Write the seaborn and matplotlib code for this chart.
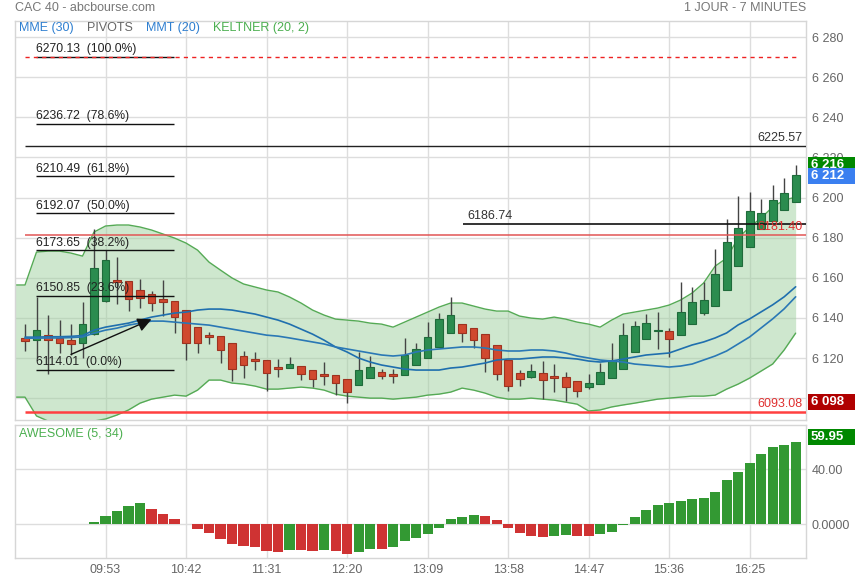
import matplotlib
matplotlib.use("Agg")
import matplotlib.pyplot as plt
from matplotlib.patches import Rectangle
import seaborn as sns
import numpy as np
import pandas as pd

# ---- candles (7 minute bars) ----
opens = [6129.8, 6129.0, 6131.3, 6129.8, 6128.8, 6127.7, 6132.2, 6148.2, 6158.8, 6158.3,
         6153.8, 6152.0, 6149.3, 6148.3, 6143.8, 6135.5, 6131.5, 6130.8, 6127.3, 6120.8,
         6118.8, 6118.8, 6115.3, 6114.8, 6115.8, 6113.8, 6111.4, 6111.3, 6109.3, 6106.3,
         6110.2, 6112.8, 6111.8, 6111.3, 6116.3, 6120.2, 6125.3, 6132.3, 6136.8, 6134.8,
         6131.8, 6126.3, 6118.8, 6112.3, 6110.7, 6112.3, 6110.8, 6110.3, 6108.3, 6105.7,
         6106.8, 6109.8, 6114.3, 6122.8, 6129.3, 6133.3, 6133.3, 6131.3, 6136.8, 6142.2,
         6145.8, 6153.8, 6165.8, 6175.3, 6184.3, 6188.3, 6193.8, 6197.8]
highs = [6136.8, 6150.5, 6141.3, 6139.0, 6136.8, 6147.7, 6184.3, 6173.8, 6170.5, 6158.5,
         6159.3, 6153.5, 6158.8, 6148.3, 6143.8, 6135.5, 6133.0, 6130.8, 6127.3, 6123.5,
         6123.0, 6118.8, 6119.3, 6120.5, 6115.8, 6113.8, 6118.0, 6111.3, 6109.3, 6123.0,
         6121.0, 6114.5, 6114.7, 6129.8, 6127.5, 6138.0, 6142.3, 6150.5, 6136.8, 6134.8,
         6131.8, 6126.3, 6118.8, 6113.8, 6116.8, 6118.5, 6116.8, 6113.0, 6108.3, 6111.8,
         6117.5, 6127.5, 6137.3, 6138.5, 6141.8, 6142.7, 6135.2, 6158.0, 6155.5, 6157.7,
         6174.3, 6189.3, 6201.0, 6203.0, 6199.3, 6206.0, 6209.8, 6216.0]
lows = [6123.5, 6120.2, 6112.2, 6122.7, 6121.5, 6120.2, 6131.5, 6148.0, 6146.8, 6143.2,
        6144.8, 6143.5, 6141.0, 6132.7, 6118.8, 6122.7, 6127.2, 6117.7, 6108.5, 6109.8,
        6114.2, 6103.5, 6110.7, 6114.8, 6108.8, 6105.5, 6106.5, 6101.8, 6097.7, 6106.3,
        6110.2, 6109.7, 6107.7, 6111.3, 6116.3, 6120.2, 6125.3, 6132.3, 6128.2, 6124.8,
        6113.2, 6108.8, 6103.5, 6106.0, 6110.2, 6099.8, 6103.2, 6098.8, 6100.7, 6104.8,
        6106.8, 6109.8, 6114.3, 6122.8, 6129.3, 6124.3, 6120.7, 6131.3, 6136.8, 6141.5,
        6145.8, 6153.8, 6165.8, 6175.3, 6184.3, 6188.3, 6193.8, 6197.8]
closes = [6128.3, 6134.0, 6128.8, 6127.3, 6126.8, 6136.8, 6164.8, 6168.8, 6157.7, 6149.2,
          6149.8, 6147.3, 6147.7, 6140.2, 6127.3, 6127.3, 6130.7, 6123.8, 6114.3, 6116.3,
          6118.6, 6112.3, 6114.3, 6116.8, 6111.8, 6109.3, 6111.2, 6107.3, 6103.3, 6113.8,
          6115.3, 6111.2, 6111.2, 6121.3, 6124.3, 6130.3, 6139.3, 6141.3, 6132.3, 6129.2,
          6120.2, 6111.8, 6105.8, 6109.7, 6113.3, 6109.2, 6110.2, 6105.7, 6103.8, 6107.3,
          6112.8, 6118.8, 6131.3, 6135.8, 6137.3, 6133.4, 6129.3, 6142.8, 6148.0, 6149.0,
          6161.8, 6177.8, 6184.8, 6193.3, 6192.3, 6198.8, 6202.3, 6211.3]

# ---- indicators ----
mme30 = [6130.4, 6130.4, 6130.6, 6130.6, 6130.8, 6131.2, 6133.9, 6135.4, 6136.4, 6137.4,
         6138.9, 6140.4, 6141.4, 6142.4, 6142.9, 6143.9, 6144.4, 6144.4, 6143.9, 6142.9,
         6141.9, 6140.4, 6138.9, 6136.9, 6134.4, 6131.9, 6128.9, 6125.5, 6123.0, 6120.0,
         6118.0, 6116.5, 6115.5, 6114.5, 6114.0, 6114.0, 6114.0, 6115.0, 6115.5, 6116.5,
         6117.5, 6119.0, 6119.5, 6119.5, 6120.0, 6120.5, 6120.5, 6120.0, 6119.5, 6118.5,
         6118.0, 6118.5, 6119.5, 6120.5, 6121.5, 6122.0, 6122.5, 6124.5, 6126.5, 6128.0,
         6130.0, 6132.5, 6136.5, 6139.5, 6143.0, 6146.5, 6150.5, 6155.5]
mmt20 = [6129.9, 6129.9, 6130.0, 6130.0, 6130.2, 6130.5, 6132.4, 6133.9, 6134.9, 6136.4,
         6137.4, 6138.4, 6138.4, 6137.9, 6137.4, 6136.9, 6136.4, 6135.4, 6134.4, 6133.4,
         6132.4, 6131.4, 6130.9, 6130.0, 6129.0, 6128.0, 6127.0, 6125.5, 6124.5, 6123.5,
         6122.5, 6121.5, 6121.0, 6121.5, 6123.0, 6124.0, 6124.5, 6125.0, 6125.5, 6125.5,
         6125.0, 6124.0, 6123.5, 6123.5, 6124.0, 6124.0, 6123.5, 6122.5, 6121.0, 6120.0,
         6119.0, 6118.5, 6118.0, 6117.0, 6116.5, 6116.0, 6115.5, 6116.0, 6117.0, 6119.0,
         6121.0, 6123.5, 6127.0, 6130.5, 6135.0, 6139.5, 6144.5, 6150.5]
kelt_up = [6156.4, 6172.8, 6173.3, 6173.3, 6172.3, 6170.8, 6182.8, 6185.8, 6186.3, 6186.3,
           6185.3, 6183.8, 6181.8, 6179.8, 6177.3, 6173.8, 6167.8, 6163.8, 6159.9, 6156.9,
           6155.4, 6153.9, 6152.9, 6150.4, 6147.4, 6143.9, 6141.4, 6139.4, 6138.9, 6138.4,
           6137.4, 6136.9, 6135.4, 6137.9, 6140.4, 6142.9, 6145.4, 6147.4, 6147.4, 6145.9,
           6144.4, 6143.4, 6143.4, 6140.9, 6139.9, 6139.4, 6140.4, 6139.4, 6137.9, 6136.9,
           6135.4, 6138.9, 6141.9, 6142.9, 6143.9, 6144.9, 6146.4, 6148.9, 6152.4, 6157.4,
           6165.8, 6169.8, 6179.8, 6185.3, 6189.8, 6195.3, 6198.7, 6200.2]
kelt_lo = [6100.5, 6091.1, 6088.6, 6088.1, 6088.1, 6088.1, 6088.6, 6089.6, 6091.6, 6094.1,
           6097.5, 6099.5, 6100.5, 6101.5, 6101.0, 6104.0, 6109.0, 6109.0, 6107.5, 6107.0,
           6106.0, 6104.5, 6104.5, 6105.0, 6105.5, 6105.0, 6104.0, 6102.0, 6101.0, 6100.5,
           6100.0, 6100.0, 6099.5, 6100.0, 6100.5, 6101.5, 6102.0, 6103.0, 6105.0, 6104.0,
           6102.5, 6100.5, 6099.5, 6099.5, 6100.0, 6099.5, 6099.0, 6098.0, 6097.0, 6093.6,
           6094.1, 6095.6, 6096.6, 6097.5, 6098.5, 6099.5, 6100.0, 6100.5, 6101.0, 6101.0,
           6101.5, 6104.5, 6107.0, 6110.0, 6113.5, 6117.0, 6124.0, 6132.4]
nan = np.nan
awesome = [nan, nan, nan, nan, nan, nan, 1.7, 6.1, 9.9, 13.3,
           15.5, 11.2, 7.5, 3.9, 0.0, -3.4, -6.3, -10.7, -14.3, -15.8,
           -16.5, -19.4, -20.1, -18.7, -18.7, -19.4, -18.7, -19.4, -21.6, -20.1,
           -17.9, -17.9, -16.5, -12.1, -9.9, -6.8, -2.4, 3.9, 5.3, 6.8,
           6.1, 3.2, -2.4, -6.3, -8.5, -9.2, -8.5, -7.8, -8.5, -8.5,
           -7.0, -5.6, -0.4, 5.3, 10.4, 14.1, 15.5, 17.0, 18.4, 19.2,
           23.5, 32.2, 38.1, 44.6, 51.2, 56.2, 57.7, 59.95]

# ---- levels ----
fib_levels = [6270.13, 6236.72, 6210.49, 6192.07, 6173.65, 6150.85, 6114.01]
fib_pcts = ["100.0%", "78.6%", "61.8%", "50.0%", "38.2%", "23.6%", "0.0%"]
resist_hi = 6225.57
resist_mid = 6186.74
support_red = 6181.40
support_low = 6093.08
arrow_from = (4, 6121.8)
arrow_to = (11, 6139.3)

time_ticks = [7, 14, 21, 28, 35, 42, 49, 56, 63]
time_labels = ["09:53", "10:42", "11:31", "12:20", "13:09", "13:58", "14:47", "15:36", "16:25"]
price_ticks = [6100, 6120, 6140, 6160, 6180, 6200, 6220, 6240, 6260, 6280]
ao_ticks = [0, 40]
ao_tick_labels = ["0.0000", "40.00"]

df = pd.DataFrame({"open": opens, "high": highs, "low": lows, "close": closes,
                   "mme": mme30, "mmt": mmt20, "up": kelt_up, "lo": kelt_lo,
                   "ao": awesome})
df["idx"] = np.arange(len(df))

sns.set_theme(style="white")
plt.rcParams["font.family"] = ["Liberation Sans", "DejaVu Sans"]

W, H = 855, 580
fig = plt.figure(figsize=(W / 100, H / 100), dpi=100)
ax = fig.add_axes([15 / W, 1 - 420 / H, 791 / W, 399 / H])
ax2 = fig.add_axes([15 / W, 1 - 558 / H, 791 / W, 133 / H])

XMIN, XMAX = -0.87, 67.9
grid_c = "#dddddd"
txt_c = "#666666"

for a in (ax, ax2):
    a.set_xlim(XMIN, XMAX)
    a.set_xticks(time_ticks)
    a.set_axisbelow(True)
    a.grid(True, color=grid_c, lw=1)
    for s in a.spines.values():
        s.set_color("#d6d6d6")
        s.set_linewidth(1)
    a.tick_params(axis="both", length=0, colors=txt_c, labelsize=9)
    a.tick_params(axis="y", left=False, labelleft=False, right=True, labelright=True, pad=4)

ax.set_ylim(6089.1, 6288.0)
ax.set_yticks(price_ticks)
ax.set_yticklabels([f"{v:,}".replace(",", " ") for v in price_ticks])
ax.set_xticklabels([])

# Keltner band
xb = np.r_[XMIN, df["idx"]]
ax.fill_between(xb, np.r_[df["lo"][0], df["lo"]], np.r_[df["up"][0], df["up"]],
                color="#9fd09f", alpha=0.5, lw=0, zorder=1)
sns.lineplot(x=xb, y=np.r_[df["up"][0], df["up"]], ax=ax, color="#55aa55", lw=1, zorder=2)
sns.lineplot(x=xb, y=np.r_[df["lo"][0], df["lo"]], ax=ax, color="#55aa55", lw=1, zorder=2)

# candles
bull = df["close"] >= df["open"]
body = np.where(bull, "#2b8c4f", "#d0492f")
edge = np.where(bull, "#1f6b3b", "#9e3320")
ax.vlines(df["idx"], df["low"], df["high"], color="#444444", lw=1, zorder=3)
ax.bar(df["idx"], np.maximum((df["close"] - df["open"]).abs(), 0.7),
       bottom=np.minimum(df["open"], df["close"]), width=0.68,
       color=body, edgecolor=edge, lw=0.8, zorder=4)

# moving averages
sns.lineplot(data=df, x="idx", y="mme", ax=ax, color="#1f6fae", lw=1.2, zorder=5)
sns.lineplot(data=df, x="idx", y="mmt", ax=ax, color="#2a78b5", lw=1.2, zorder=5)
ax.set_xlabel("")
ax.set_ylabel("")

# fibonacci retracement
for lvl, pct in zip(fib_levels, fib_pcts):
    ax.hlines(lvl, 0.95, 12.95, color="#111111", lw=1, zorder=6)
    ax.text(0.95, lvl + 0.9, f"{lvl:.2f}  ({pct})", fontsize=8.7, color="#222222",
            va="bottom", ha="left", zorder=6)
ax.hlines(fib_levels[0], 0, 67, color="#ee2222", lw=1, linestyles=(0, (3, 3)), zorder=6)
ax.annotate("", xy=arrow_to, xytext=arrow_from, zorder=6,
            arrowprops=dict(arrowstyle="-|>,head_length=0.7,head_width=0.35",
                            color="#111111", lw=1, shrinkA=0, shrinkB=0))

# pivots / support & resistance
ax.hlines(resist_hi, 0, XMAX, color="#222222", lw=1, zorder=6)
ax.hlines(resist_mid, 38.1, XMAX, color="#111111", lw=1.2, zorder=6)
ax.hlines(support_red, 0, XMAX, color="#e25555", lw=1.1, zorder=6)
ax.hlines(support_low, 0, XMAX, color="#ff4040", lw=1.8, zorder=6)
ax.text(67.6, resist_hi + 1.2, f"{resist_hi:.2f}", ha="right", va="bottom",
        fontsize=9, color="#333333", zorder=7)
ax.text(38.5, resist_mid + 1.2, f"{resist_mid:.2f}", ha="left", va="bottom",
        fontsize=9, color="#333333", zorder=7)
ax.text(67.6, support_red + 0.8, f"{support_red:.2f}", ha="right", va="bottom",
        fontsize=9, color="#e03030", zorder=7)
ax.text(67.6, support_low + 1.2, f"{support_low:.2f}", ha="right", va="bottom",
        fontsize=9, color="#e03030", zorder=7)

# legend row
legend_items = [("MME (30)", "#2f7fd0", 19), ("PIVOTS", "#666666", 87),
                ("MMT (20)", "#2f7fd0", 146), ("KELTNER (20, 2)", "#4caf50", 213)]
for label, col, px in legend_items:
    fig.text(px / W, 1 - 28 / H, label, color=col, fontsize=9, va="center", ha="left")

# awesome oscillator
ao = df["ao"]
ao_green = ao.diff().fillna(1) > 0
ao_col = np.where(ao_green, "#339933", "#cf3333")
ax2.bar(df["idx"], ao.fillna(0), width=0.88, color=ao_col, lw=0, zorder=3)
ax2.set_ylim(-24.5, 72.2)
ax2.set_yticks(ao_ticks)
ax2.set_yticklabels(ao_tick_labels)
ax2.set_xticklabels(time_labels)
ax2.tick_params(axis="x", pad=4)
fig.text(19 / W, 1 - 434 / H, "AWESOME (5, 34)", color="#4caf50", fontsize=9,
         va="center", ha="left")

# header
fig.text(15 / W, 1 - 8 / H, "CAC 40 - abcbourse.com", color="#777777", fontsize=9, va="center")
fig.text(806 / W, 1 - 8 / H, "1 JOUR - 7 MINUTES", color="#777777", fontsize=9,
         va="center", ha="right")


def price_tag(axis, value, text, color, dy=0.0):
    y_disp = axis.transData.transform((0, value))[1] + dy
    fy = y_disp / H
    fig.add_artist(Rectangle((808 / W, fy - 8 / H), 47 / W, 16 / H,
                             transform=fig.transFigure, color=color, lw=0))
    fig.text(811 / W, fy, text, color="white", fontsize=9.5, fontweight="bold",
             va="center", ha="left")


price_tag(ax, highs[-1], f"{highs[-1]:,.0f}".replace(",", " "), "#008800")
price_tag(ax, closes[-1], f"{round(closes[-1] + 0.5):,}".replace(",", " "), "#3a7ff0", dy=-1)
price_tag(ax, 6098, "6 098", "#b00000")
price_tag(ax2, awesome[-1], f"{awesome[-1]:.2f}", "#008800", dy=5)

fig.savefig("out.png", dpi=100)
